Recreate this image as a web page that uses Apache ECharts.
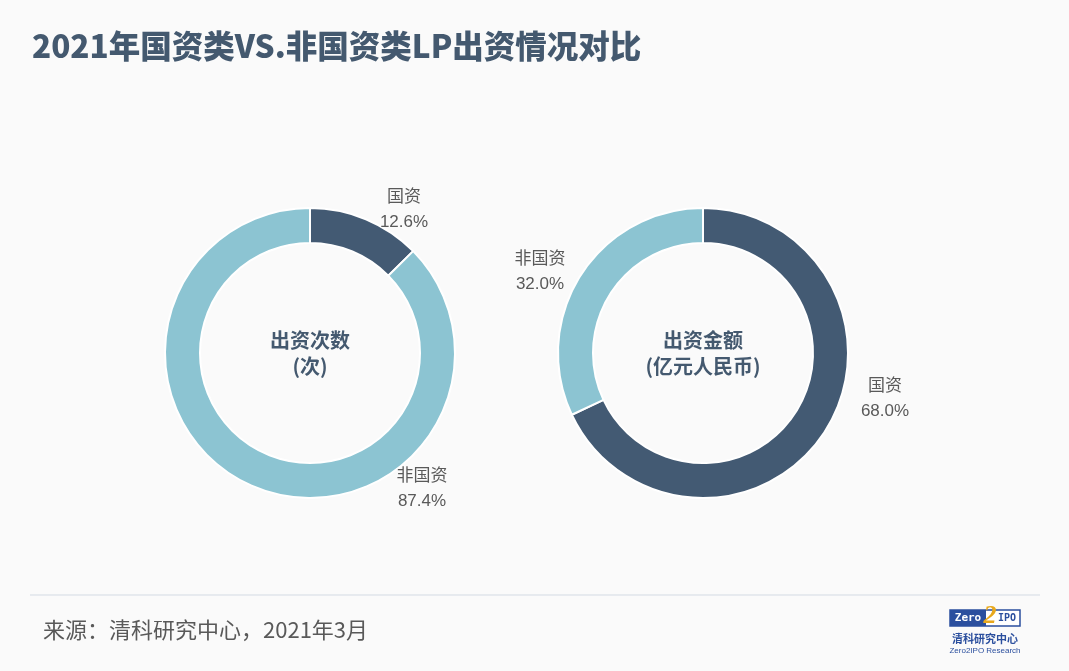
<!DOCTYPE html>
<html>
<head>
<meta charset="utf-8">
<script src="https://cdn.jsdelivr.net/npm/echarts@6/dist/echarts.min.js"></script>
<style>
html,body{margin:0;padding:0;background:#fafafa;}
#main{width:1069px;height:671px;}
</style>
</head>
<body>
<div id="main"></div>
<script>
var categories = ['国资', '非国资'];
var countShare = [12.6, 87.4];   // 出资次数
var amountShare = [68.0, 32.0];  // 出资金额
var titleText = '2021年国资类VS.非国资类LP出资情况对比';
var sourceText = '来源：清科研究中心，2021年3月';
var centerTexts = ['出资次数\n(次)', '出资金额\n(亿元人民币)'];

var DARK = '#435a73', LIGHT = '#8cc4d2', TXT = '#595959', TITLE = '#44596f';
var FONT = '"Noto Sans CJK SC", "Noto Sans", sans-serif';
var LFONT = '"Liberation Sans", "Noto Sans CJK SC", sans-serif';

// label anchor positions (layout only)
var labelPos = [
  [[404, 210], [422, 489]],
  [[885, 399], [540, 272]]
];

function mkData(vals) {
  return categories.map(function (c, i) {
    return { name: c, value: vals[i], itemStyle: { color: i === 0 ? DARK : LIGHT } };
  });
}

function mkSeries(vals, cx, idx) {
  return {
    type: 'pie',
    center: [cx, 353],
    radius: [110, 145],
    startAngle: 90,
    clockwise: true,
    silent: true,
    itemStyle: { borderColor: '#ffffff', borderWidth: 2 },
    label: {
      show: true,
      position: 'outside',
      formatter: function (p) { return p.name + '\n' + p.value.toFixed(1) + '%'; },
      color: TXT,
      fontSize: 17,
      lineHeight: 25,
      fontFamily: LFONT,
      align: 'center'
    },
    labelLine: { show: false },
    labelLayout: function (p) {
      var pos = labelPos[idx][p.dataIndex];
      return { x: pos[0], y: pos[1], align: 'center', verticalAlign: 'middle' };
    },
    data: mkData(vals)
  };
}

var chart = echarts.init(document.getElementById('main'), null, { renderer: 'canvas' });
chart.setOption({
  backgroundColor: '#fafafa',
  animation: false,
  title: {
    text: titleText,
    left: 27,
    top: 25,
    textStyle: { color: TITLE, fontSize: 31.5, fontWeight: 900, fontFamily: FONT }
  },
  series: [mkSeries(countShare, 310, 0), mkSeries(amountShare, 703, 1)],
  graphic: [
    { type: 'text', x: 310, y: 353, style: { text: centerTexts[0], align: 'center', verticalAlign: 'middle', fill: TITLE, font: 'bold 20px ' + FONT, lineHeight: 26 } },
    { type: 'text', x: 703, y: 353, style: { text: centerTexts[1], align: 'center', verticalAlign: 'middle', fill: TITLE, font: 'bold 20px ' + FONT, lineHeight: 26 } },
    { type: 'line', shape: { x1: 30, y1: 595, x2: 1040, y2: 595 }, style: { stroke: '#d3dae3', lineWidth: 1 } },
    { type: 'text', x: 43, y: 630, style: { text: sourceText, verticalAlign: 'middle', fill: TXT, font: '22px ' + FONT } },
    // logo
    { type: 'rect', shape: { x: 950, y: 610, width: 70, height: 16 }, style: { fill: '#ffffff', stroke: '#2b4f9e', lineWidth: 1.5 } },
    { type: 'rect', shape: { x: 950, y: 610, width: 36, height: 16 }, style: { fill: '#2b4f9e' } },
    { type: 'text', x: 968, y: 618, style: { text: 'Zero', align: 'center', verticalAlign: 'middle', fill: '#ffffff', font: 'bold 11px "DejaVu Sans Mono", monospace' } },
    { type: 'text', x: 1007, y: 618, style: { text: 'IPO', align: 'center', verticalAlign: 'middle', fill: '#2b4f9e', font: 'bold 10px "DejaVu Sans Mono", monospace' } },
    { type: 'text', x: 990, y: 616, style: { text: '2', align: 'center', verticalAlign: 'middle', fill: '#e8a81c', font: 'bold italic 26px "Liberation Serif", serif' } },
    { type: 'text', x: 985, y: 639, style: { text: '清科研究中心', align: 'center', verticalAlign: 'middle', fill: '#2b4f9e', font: 'bold 11px ' + FONT } },
    { type: 'text', x: 985, y: 651, style: { text: 'Zero2IPO Research', align: 'center', verticalAlign: 'middle', fill: '#2b4f9e', font: '8px "Liberation Sans", Arial, sans-serif' } }
  ]
});
</script>
</body>
</html>
